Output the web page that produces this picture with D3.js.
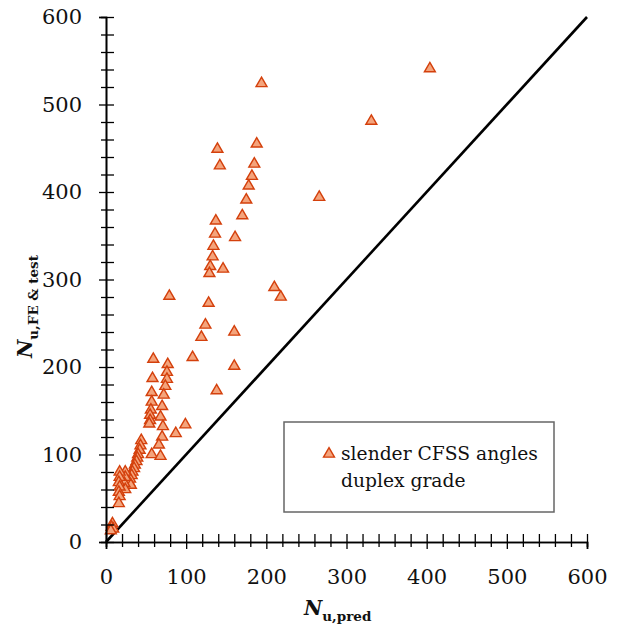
<!DOCTYPE html>
<html>
<head>
<meta charset="utf-8">
<script src="https://cdn.jsdelivr.net/npm/d3@7"></script>
<style>
	html, body { margin: 0; padding: 0; background: white; }
	#outer { width: 626px; height: 631px; }
</style>
</head>
<body>
<div id="outer"></div>
<script>
////////// Data //////////
const nPred = [
	404, 331, 266, 194, 188, 139, 142, 185, 182, 178, 175, 170, 137, 136, 161, 134, 133, 130, 146, 129,
	210, 218, 79, 128, 124, 160, 119, 108, 160, 138, 99, 87,
	59, 77, 76, 58, 76, 74, 57, 72, 57, 70, 56, 55, 55, 68, 71, 70, 66, 57, 68, 54,
	44, 43, 42, 40, 39, 38, 36, 35, 33, 32, 30, 29, 31, 24, 24, 23, 24,
	17, 17, 16, 17, 16, 17, 16, 8, 7, 9, 6
];
const nTest = [
	541, 481, 394, 524, 455, 449, 430, 432, 418, 407, 391, 373, 367, 352, 348, 338, 326, 315, 312, 307,
	291, 280, 281, 273, 248, 240, 234, 211, 201, 173, 134, 124,
	209, 203, 194, 187, 186, 178, 171, 168, 160, 155, 151, 145, 139, 143, 132, 120, 111, 100, 98, 135,
	116, 110, 105, 100, 96, 92, 88, 84, 80, 76, 72, 68, 65, 80, 74, 67, 60,
	80, 74, 68, 63, 57, 52, 44, 21, 17, 15, 13
];
const axisDomain = [0, 600];
const majorTicks = [0, 100, 200, 300, 400, 500, 600];
const minorTicks = d3.range(0, 601, 20).filter(v => v % 100 !== 0);
const legendLines = ['slender CFSS angles', 'duplex grade'];

function drawChart () {

	////////// Hard Coded Defs //////////
	const width = 626;
	const height = 631;
	const margin = {left: 106, right: 39, top: 17, bottom: 89};
	const plotW = width - margin.left - margin.right;
	const plotH = height - margin.top - margin.bottom;
	const tickFont = '21px "DejaVu Serif"';
	const textFont = '"DejaVu Serif", serif';
	const markerFill = '#f4a47c';
	const markerStroke = '#d4400c';
	const triangle = d3.symbol().type(d3.symbolTriangle).size(52);

	const points = nPred.map((x, i) => ({x: x, y: nTest[i]}));

	const x = d3.scaleLinear().domain(axisDomain).range([0, plotW]);
	const y = d3.scaleLinear().domain(axisDomain).range([plotH, 0]);

	const svg = d3.select('#outer').append('svg')
		.attr('width', width)
		.attr('height', height)
		.style('display', 'block');

	const g = svg.append('g')
		.attr('transform', `translate(${margin.left}, ${margin.top})`);

	// ********************************* 1:1 LINE ********************************* //
	g.append('line')
		.attr('x1', x(axisDomain[0]))
		.attr('y1', y(axisDomain[0]))
		.attr('x2', x(axisDomain[1]))
		.attr('y2', y(axisDomain[1]))
		.attr('stroke', 'black')
		.attr('stroke-width', 2.6);

	// ********************************* POINTS ********************************* //
	g.append('g').attr('class', 'points')
		.selectAll('path')
		.data(points)
		.join('path')
		.attr('d', triangle)
		.attr('transform', d => `translate(${x(d.x)}, ${y(d.y)})`)
		.attr('fill', markerFill)
		.attr('stroke', markerStroke)
		.attr('stroke-width', 1.4);

	// ********************************* AXES ********************************* //
	const xAxis = g.append('g').attr('transform', `translate(0, ${plotH})`);
	xAxis.call(d3.axisBottom(x).tickValues(minorTicks).tickSize(5).tickFormat(''));
	xAxis.append('g').call(d3.axisBottom(x).tickValues(majorTicks).tickSize(7).tickPadding(20).tickFormat(d3.format('d')));
	xAxis.selectAll('.domain').attr('stroke', 'black').attr('stroke-width', 1.6);
	xAxis.selectAll('line').attr('stroke', 'black').attr('stroke-width', 1.3);
	// major ticks cross the axis
	xAxis.selectAll('g g .tick line').attr('y1', -8);
	xAxis.selectAll('text').style('font', tickFont).attr('fill', '#111');

	const yAxis = g.append('g');
	yAxis.call(d3.axisLeft(y).tickValues(minorTicks).tickSize(5).tickFormat(''));
	yAxis.append('g').call(d3.axisLeft(y).tickValues(majorTicks).tickSize(7).tickPadding(17).tickFormat(d3.format('d')));
	yAxis.selectAll('.domain').attr('stroke', 'black').attr('stroke-width', 1.6);
	yAxis.selectAll('line').attr('stroke', 'black').attr('stroke-width', 1.3);
	yAxis.selectAll('g g .tick line').attr('x1', 8);
	yAxis.selectAll('text').style('font', tickFont).attr('fill', '#111');

	// ********************************* AXIS TITLES ********************************* //
	const xTitle = svg.append('text')
		.attr('x', 304)
		.attr('y', 615)
		.style('font-family', textFont)
		.attr('fill', '#111');
	xTitle.append('tspan').text('N').style('font-weight', 'bold').style('font-style', 'italic').style('font-size', '20px');
	xTitle.append('tspan').text('u,pred').attr('dy', 6).style('font-weight', 'bold').style('font-size', '13.5px');

	const yTitle = svg.append('text')
		.attr('transform', 'translate(32, 358) rotate(-90)')
		.style('font-family', textFont)
		.attr('fill', '#111');
	yTitle.append('tspan').text('N').style('font-weight', 'bold').style('font-style', 'italic').style('font-size', '20px');
	yTitle.append('tspan').text('u,FE & test').attr('dy', 6).style('font-weight', 'bold').style('font-size', '13.5px');

	// ********************************* LEGEND ********************************* //
	const legend = svg.append('g').attr('class', 'legend');
	legend.append('rect')
		.attr('x', 284)
		.attr('y', 422)
		.attr('width', 270)
		.attr('height', 90)
		.attr('fill', 'white')
		.attr('stroke', '#666')
		.attr('stroke-width', 1.5);
	legend.append('path')
		.attr('d', triangle)
		.attr('transform', 'translate(329, 454)')
		.attr('fill', markerFill)
		.attr('stroke', markerStroke)
		.attr('stroke-width', 1.4);
	legend.selectAll('text.lbl')
		.data(legendLines)
		.join('text')
		.attr('class', 'lbl')
		.attr('x', 341)
		.attr('y', (d, i) => 460 + i * 27)
		.style('font-family', textFont)
		.style('font-size', '18.7px')
		.attr('fill', '#111')
		.text(d => d);
}

drawChart();
</script>
</body>
</html>
